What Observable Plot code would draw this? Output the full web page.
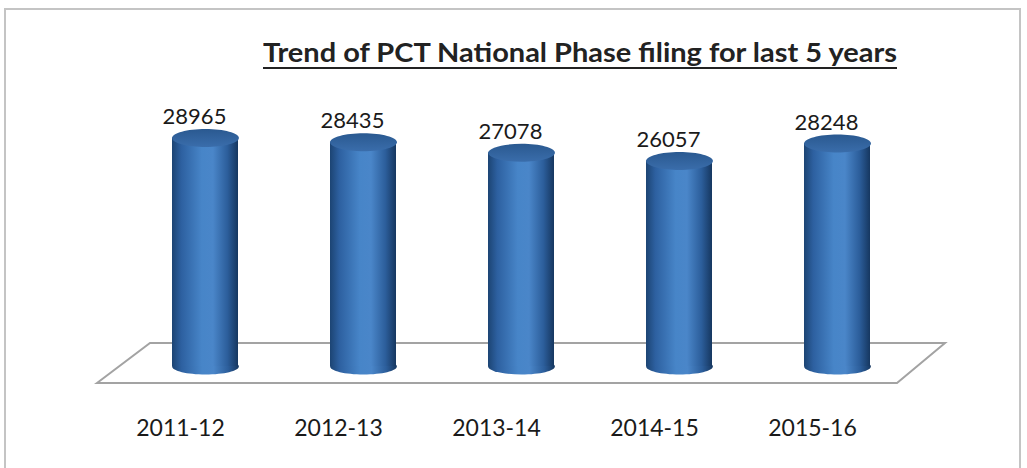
<!DOCTYPE html>
<html>
<head>
<meta charset="utf-8">
<script src="https://cdn.jsdelivr.net/npm/d3@7"></script>
<script src="https://cdn.jsdelivr.net/npm/@observablehq/plot@0.6"></script>
<style>
  html, body { margin: 0; padding: 0; background: #ffffff; }
  #wrap { position: relative; width: 1027px; height: 468px; overflow: hidden; font-family: Lato, "Open Sans", sans-serif; }
  #frame { position: absolute; left: 4px; top: 8px; width: 1017px; height: 490px; border: 2px solid #c4c4c4; box-sizing: border-box; pointer-events: none; }
  #title { position: relative; height: 80px; box-sizing: border-box; }
  #title span { position: absolute; left: 263px; top: 38px; display: inline-block; white-space: nowrap;
    font-size: 27px; line-height: 27px; font-weight: bold; color: #222222; transform-origin: 0 0;
    text-decoration: underline; text-decoration-thickness: 2px; text-underline-offset: 5px; }
  #chart { position: relative; }
</style>
</head>
<body>
<div id="wrap">
  <div id="frame"></div>
  <div id="title"><span id="titleText">Trend of PCT National Phase filing for last 5 years</span></div>
  <div id="chart"></div>
</div>
<script>
// ---- data ----
const years = ["2011-12", "2012-13", "2013-14", "2014-15", "2015-16"];
const filings = [28965, 28435, 27078, 26057, 28248];
const data = years.map((year, i) => ({year, value: filings[i]}));

// fit title width
const t = document.getElementById("titleText");
const w = t.getBoundingClientRect().width;
t.style.transform = `scaleX(${634 / w})`;

// ellipse symbol for cylinder caps
function ellipseSymbol(ry) {
  return {
    draw(ctx, size) {
      const rx = Math.sqrt(size / Math.PI), k = 0.5523;
      ctx.moveTo(-rx, 0);
      ctx.bezierCurveTo(-rx, -k * ry, -k * rx, -ry, 0, -ry);
      ctx.bezierCurveTo(k * rx, -ry, rx, -k * ry, rx, 0);
      ctx.bezierCurveTo(rx, k * ry, k * rx, ry, 0, ry);
      ctx.bezierCurveTo(-k * rx, ry, -rx, k * ry, -rx, 0);
      ctx.closePath();
    }
  };
}

const plot = Plot.plot({
  width: 1027,
  height: 388,
  marginLeft: 78,
  marginRight: 62,
  marginTop: 49,
  marginBottom: 102,
  style: {fontFamily: "Lato, 'Open Sans', sans-serif", fontSize: "23px", color: "#1a1a1a", background: "transparent", overflow: "visible"},
  x: {domain: years, padding: 0.58, axis: null},
  y: {domain: [0, 30000], range: [286, 49.3], axis: null},
  marks: [
    Plot.dot(data, {x: "year", y: () => 0, r: 33.4, symbol: ellipseSymbol(8), fill: "url(#cylGrad)", stroke: "none"}),
    Plot.barY(data, {x: "year", y: "value", fill: "url(#cylGrad)"}),
    Plot.dot(data, {x: "year", y: "value", r: 33.4, symbol: ellipseSymbol(9), fill: "url(#topGrad)", stroke: "none"}),
    Plot.text(data, {x: "year", y: "value", text: d => String(d.value), dx: -11, dy: -21, fontSize: 22, fill: "#1a1a1a"}),
    Plot.axisX({tickSize: 0, tickPadding: 53, dx: -25, fontSize: 23, label: null, fill: "#1a1a1a"})
  ]
});

const svg = d3.select(plot);
svg.insert("defs", ":first-child").html(`
  <linearGradient id="cylGrad" x1="0" y1="0" x2="1" y2="0">
    <stop offset="0%" stop-color="#1c4473"/>
    <stop offset="14%" stop-color="#2d60a0"/>
    <stop offset="45%" stop-color="#4785c8"/>
    <stop offset="62%" stop-color="#4a86c9"/>
    <stop offset="84%" stop-color="#2c5e9b"/>
    <stop offset="100%" stop-color="#163760"/>
  </linearGradient>
  <linearGradient id="topGrad" x1="0" y1="0" x2="0" y2="1">
    <stop offset="0%" stop-color="#2a5990"/>
    <stop offset="100%" stop-color="#3a6dab"/>
  </linearGradient>`);

// floor plane of the 3D chart, derived from the scales
const xs = plot.scale("x"), ys = plot.scale("y");
const L = xs.range[0], R = xs.range[1];
const y0 = ys.apply(0);
const back = y0 - 23, front = y0 + 17;
svg.insert("path", "g")
  .attr("d", `M${L + 19},${front} L${L + 72},${back} L${R - 20},${back} L${R - 68},${front} Z`)
  .attr("fill", "#ffffff")
  .attr("stroke", "#a3a3a3")
  .attr("stroke-width", 2);

document.getElementById("chart").appendChild(plot);
</script>
</body>
</html>
